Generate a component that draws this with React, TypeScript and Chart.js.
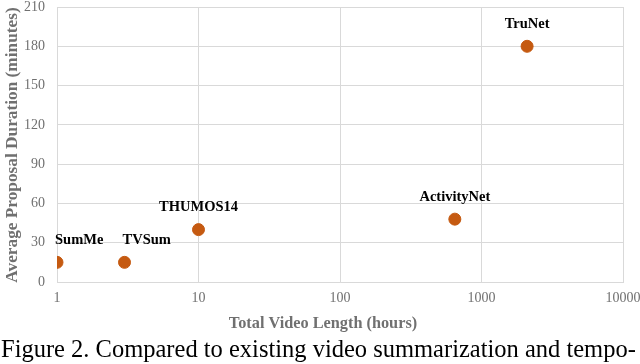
import React, { useEffect, useRef } from "react";
import { Chart, registerables } from "chart.js";

Chart.register(...registerables);

const datasetNames = ["SumMe", "TVSum", "THUMOS14", "ActivityNet", "TruNet"];
const videoHours = [1, 3, 10, 648, 2100];
const proposalMinutes = [15, 15, 40, 48, 180];
const labelAlign: CanvasTextAlign[] = ["left", "left", "center", "center", "center"];
const xTicks = [1, 10, 100, 1000, 10000];
const xTitle = "Total Video Length (hours)";
const yTitle = "Average Proposal Duration (minutes)";
const caption = "Figure 2. Compared to existing video summarization and tempo-";

const SERIF = "'Liberation Serif', 'Times New Roman', serif";

const labelPlugin = {
  id: "pointLabels",
  afterDatasetsDraw(chart: any) {
    const ctx = chart.ctx;
    const meta = chart.getDatasetMeta(0);
    ctx.save();
    ctx.font = `bold 14.5px ${SERIF}`;
    ctx.fillStyle = "#000";
    ctx.textBaseline = "middle";
    meta.data.forEach((pt: any, i: number) => {
      ctx.textAlign = labelAlign[i];
      const x = labelAlign[i] === "left" ? pt.x - 2 : pt.x;
      ctx.fillText(datasetNames[i], x, pt.y - 22);
    });
    // x axis title
    ctx.font = `bold 16.3px ${SERIF}`;
    ctx.fillStyle = "#707070";
    ctx.textAlign = "center";
    ctx.fillText(xTitle, 323, 324);
    // y axis title
    ctx.translate(13, 145);
    ctx.rotate(-Math.PI / 2);
    ctx.font = `bold 17.3px ${SERIF}`;
    ctx.fillText(yTitle, 0, 0);
    ctx.restore();
  },
};

export default function App() {
  const ref = useRef<HTMLCanvasElement>(null);
  useEffect(() => {
    const chart = new Chart(ref.current!, {
      type: "scatter",
      data: {
        datasets: [
          {
            data: videoHours.map((x, i) => ({ x, y: proposalMinutes[i] })),
            backgroundColor: "#C55A11",
            borderColor: "#C55A11",
            pointRadius: 6,
          },
        ],
      },
      options: {
        animation: false,
        responsive: false,
        layout: { padding: { top: 7, right: 17, left: 0, bottom: 0 } },
        plugins: { legend: { display: false }, tooltip: { enabled: false } },
        scales: {
          x: {
            type: "logarithmic",
            min: 1,
            max: 10000,
            afterBuildTicks: (s: any) => {
              s.ticks = xTicks.map((v) => ({ value: v }));
            },
            afterFit: (s: any) => {
              s.height = 54;
              s.paddingLeft = 0;
              s.paddingRight = 0;
            },
            ticks: {
              color: "#707070",
              font: { family: SERIF, size: 14 },
              padding: 8,
              maxRotation: 0,
              callback: (v: any) => String(v),
            },
            grid: { color: "#D9D9D9", drawTicks: false, lineWidth: 1 },
            border: { color: "#D9D9D9" },
            title: { display: false },
          },
          y: {
            min: 0,
            max: 210,
            afterFit: (s: any) => {
              s.width = 57;
              s.paddingTop = 0;
              s.paddingBottom = 0;
            },
            ticks: {
              stepSize: 30,
              color: "#707070",
              font: { family: SERIF, size: 14 },
              padding: 12,
            },
            grid: { color: "#D9D9D9", drawTicks: false },
            border: { color: "#D9D9D9" },
            title: { display: false },
          },
        },
      },
      plugins: [labelPlugin],
    });
    return () => chart.destroy();
  }, []);

  return (
    <div style={{ position: "absolute", left: 0, top: 0, width: 640, height: 364, background: "#fff", overflow: "hidden" }}>
      <canvas ref={ref} width={640} height={336} style={{ display: "block" }} />
      <div
        style={{
          position: "absolute",
          left: 1,
          top: 334,
          fontFamily: SERIF,
          fontSize: 24.5,
          lineHeight: "30px",
          color: "#000",
          whiteSpace: "nowrap",
        }}
      >
        {caption}
      </div>
    </div>
  );
}
